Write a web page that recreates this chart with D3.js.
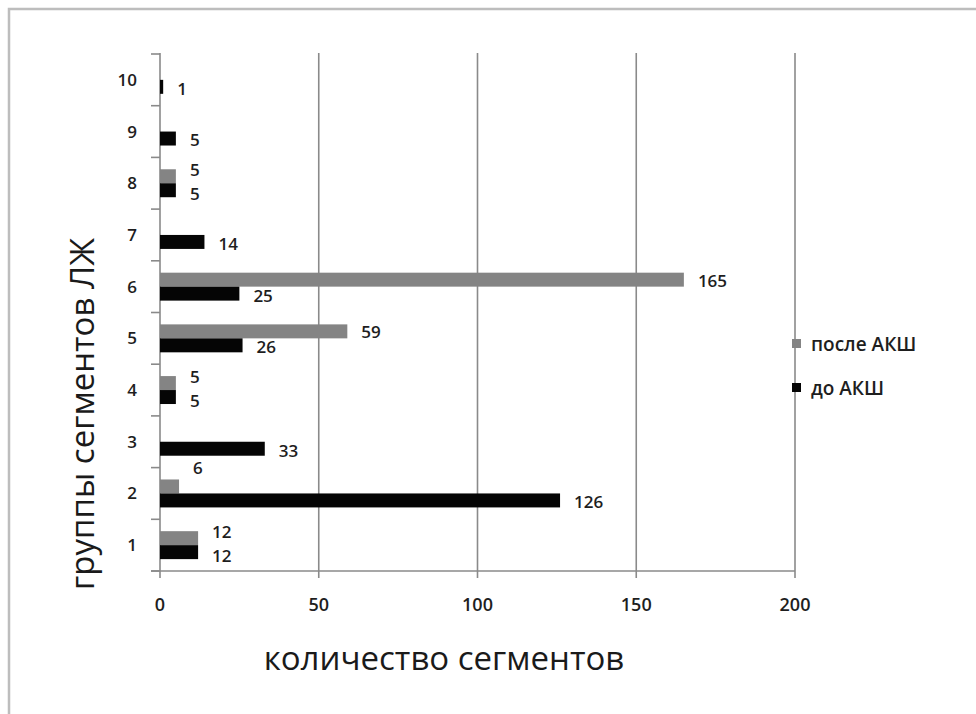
<!DOCTYPE html>
<html>
<head>
<meta charset="utf-8">
<script src="https://cdn.jsdelivr.net/npm/d3@7/dist/d3.min.js"></script>
<style>
  html, body { margin: 0; padding: 0; background: #fff; }
  svg text { font-family: "Open Sans", "DejaVu Sans", sans-serif; }
</style>
</head>
<body>
<svg id="chart" width="976" height="714"></svg>
<script>
// LV segment groups and segment counts before / after CABG
const groups = ["1", "2", "3", "4", "5", "6", "7", "8", "9", "10"];
const seriesNames = ["после АКШ", "до АКШ"];
const afterCabg  = [12, 6, null, 5, 59, 165, null, 5, null, null];
const beforeCabg = [12, 126, 33, 5, 26, 25, 14, 5, 5, 1];
const xTicks = [0, 50, 100, 150, 200];
const xTitle = "количество сегментов";
const yTitle = "группы сегментов ЛЖ";

const colors = { "после АКШ": "#848484", "до АКШ": "#050505" };
const seriesValues = { "после АКШ": afterCabg, "до АКШ": beforeCabg };
const textColor = "#1e1e1e";

const svg = d3.select("#chart");

// outer chart frame
svg.append("rect")
  .attr("x", 9).attr("y", 9).attr("width", 1000).attr("height", 1000)
  .attr("fill", "#fff").attr("stroke", "#bdbdbd").attr("stroke-width", 2.5);

const plot = { left: 160, right: 795, top: 54, bottom: 571 };

const x = d3.scaleLinear().domain([0, 200]).range([plot.left, plot.right]);
const y = d3.scaleBand().domain(groups).range([plot.bottom, plot.top]).paddingInner(0).paddingOuter(0);
const ySub = d3.scaleBand().domain(seriesNames).range([0, y.bandwidth()]).paddingInner(0).paddingOuter(0.85);

const axisColor = "#8a8a8a";

// vertical gridlines (they also act as x-axis ticks)
svg.append("g").selectAll("line")
  .data(xTicks.filter(d => d > 0))
  .join("line")
  .attr("x1", d => x(d)).attr("x2", d => x(d))
  .attr("y1", plot.top - 1).attr("y2", plot.bottom + 7)
  .attr("stroke", axisColor).attr("stroke-width", 1.6);

// category axis with boundary ticks
svg.append("line")
  .attr("x1", x(0)).attr("x2", x(0))
  .attr("y1", plot.top - 1).attr("y2", plot.bottom + 7)
  .attr("stroke", axisColor).attr("stroke-width", 1.6);

svg.append("g").selectAll("line")
  .data(d3.range(groups.length + 1))
  .join("line")
  .attr("x1", x(0) - 9).attr("x2", x(0))
  .attr("y1", i => plot.bottom - i * y.step())
  .attr("y2", i => plot.bottom - i * y.step())
  .attr("stroke", axisColor).attr("stroke-width", 1.6);

// value axis baseline
svg.append("line")
  .attr("x1", x(0) - 9).attr("x2", plot.right)
  .attr("y1", plot.bottom).attr("y2", plot.bottom)
  .attr("stroke", axisColor).attr("stroke-width", 1.6);

// category labels
svg.append("g").selectAll("text")
  .data(groups)
  .join("text")
  .attr("x", x(0) - 23)
  .attr("y", d => y(d) + y.bandwidth() / 2)
  .attr("dy", "0.35em")
  .attr("text-anchor", "end")
  .attr("font-size", 17)
  .attr("font-weight", 600)
  .attr("fill", textColor)
  .text(d => d);

// value tick labels
svg.append("g").selectAll("text")
  .data(xTicks)
  .join("text")
  .attr("x", d => x(d))
  .attr("y", 605)
  .attr("dy", "0.35em")
  .attr("text-anchor", "middle")
  .attr("font-size", 18)
  .attr("font-weight", 600)
  .attr("fill", textColor)
  .text(d => d);

// bars
const barData = [];
seriesNames.forEach(s => {
  seriesValues[s].forEach((v, i) => {
    if (v !== null) barData.push({ series: s, group: groups[i], value: v, partner: (s === "после АКШ" ? beforeCabg : afterCabg)[i] });
  });
});

svg.append("g").selectAll("rect")
  .data(barData)
  .join("rect")
  .attr("x", x(0))
  .attr("y", d => y(d.group) + ySub(d.series))
  .attr("width", d => x(d.value) - x(0))
  .attr("height", ySub.bandwidth())
  .attr("fill", d => colors[d.series]);

// data labels: when both labels of a group would collide they are pushed apart;
// the short "after" bar in group 2 carries its label above it
const labelNudge = d => {
  if (d.group === "2" && d.series === "после АКШ") return -18;
  const close = d.partner !== null && Math.abs(x(d.value) - x(d.partner)) < 30;
  if (d.series === "после АКШ") return close ? -6 : 1;
  return close ? 4 : 2;
};
svg.append("g").selectAll("text")
  .data(barData)
  .join("text")
  .attr("x", d => x(d.value) + 14)
  .attr("y", d => y(d.group) + ySub(d.series) + ySub.bandwidth() / 2 + labelNudge(d))
  .attr("dy", "0.35em")
  .attr("font-size", 17)
  .attr("font-weight", 600)
  .attr("fill", textColor)
  .text(d => d.value);

// legend
const legend = svg.append("g").attr("transform", "translate(792,344)");
seriesNames.forEach((s, i) => {
  const row = legend.append("g").attr("transform", `translate(0,${i * 44})`);
  row.append("rect").attr("x", 0).attr("y", -5).attr("width", 9).attr("height", 9).attr("fill", colors[s]);
  row.append("text").attr("x", 19).attr("y", 0).attr("dy", "0.35em")
    .attr("font-size", 19).attr("font-weight", 600)
    .attr("fill", textColor).text(s);
});

// axis titles
svg.append("text")
  .attr("x", 444).attr("y", 658).attr("dy", "0.35em")
  .attr("text-anchor", "middle")
  .attr("font-size", 33)
  .attr("fill", "#1a1a1a")
  .text(xTitle);

svg.append("text")
  .attr("transform", "translate(82,414) rotate(-90)")
  .attr("dy", "0.35em")
  .attr("text-anchor", "middle")
  .attr("font-size", 33)
  .attr("fill", "#1a1a1a")
  .text(yTitle);
</script>
</body>
</html>
